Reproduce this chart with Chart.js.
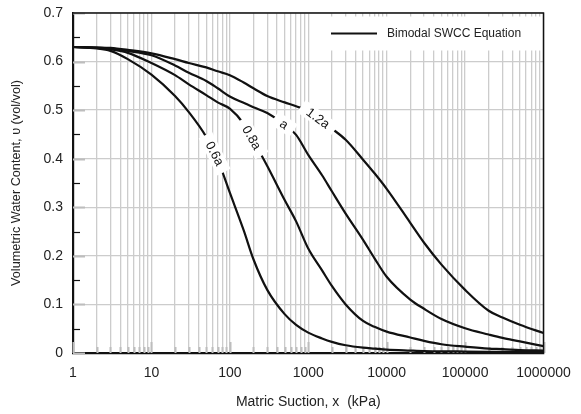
<!DOCTYPE html>
<html>
<head>
<meta charset="utf-8">
<script src="https://cdn.jsdelivr.net/npm/chart.js@4/dist/chart.umd.min.js"></script>
<style>
html,body{margin:0;padding:0;background:#ffffff;}
#wrap{width:581px;height:414px;}
</style>
</head>
<body>
<div id="wrap"><canvas id="c" width="581" height="414"></canvas></div>
<script>
// ---- data ----
const suction = [1,2,3,5,10,20,30,50,70,100,150,200,300,500,700,1000,1500,2000,3000,5000,7000,10000,20000,30000,50000,100000,200000,300000,500000,1000000];
const theta06 = [0.630,0.627,0.622,0.605,0.573,0.529,0.496,0.445,0.398,0.330,0.253,0.193,0.130,0.080,0.058,0.042,0.030,0.023,0.016,0.011,0.009,0.007,0.005,0.004,0.0035,0.003,0.0025,0.0022,0.002,0.002];
const theta08 = [0.630,0.628,0.625,0.618,0.597,0.572,0.553,0.531,0.516,0.503,0.472,0.437,0.385,0.315,0.271,0.215,0.170,0.138,0.100,0.066,0.054,0.044,0.032,0.025,0.018,0.013,0.009,0.008,0.006,0.005];
const theta10 = [0.630,0.629,0.627,0.622,0.613,0.592,0.577,0.560,0.545,0.528,0.515,0.506,0.494,0.470,0.449,0.408,0.366,0.333,0.287,0.233,0.195,0.157,0.110,0.091,0.070,0.051,0.038,0.031,0.024,0.014];
const theta12 = [0.630,0.629,0.628,0.624,0.617,0.605,0.597,0.588,0.580,0.572,0.557,0.545,0.529,0.516,0.508,0.498,0.477,0.462,0.439,0.398,0.370,0.338,0.268,0.227,0.182,0.130,0.087,0.073,0.058,0.041];
const curveNames = ['0.6a','0.8a','a','1.2a'];
const labelSuction = [64, 190, 490, 1330];
const legendLabel = 'Bimodal SWCC Equation';
const decades = [1,10,100,1000,10000,100000,1000000];
const multipliers = [1,2,3,4,5,6,7,8,9];
const yTickValues = [0,0.1,0.2,0.3,0.4,0.5,0.6,0.7];
const yMinorValues = [0.05,0.15,0.25,0.35,0.45,0.55,0.65];
const xTitle = 'Matric Suction, x  (kPa)';
const yTitle = 'Volumetric Water Content, \u03c5 (vol/vol)';

const xTickValues = [];
decades.forEach(d => multipliers.forEach(m => { const v = d*m; if (v <= decades[decades.length-1]) xTickValues.push(v); }));
const isDecade = v => decades.indexOf(v) >= 0;

const series = [theta06, theta08, theta10, theta12];
const FONT = '"Liberation Sans", Arial, Helvetica, sans-serif';

const axisDecor = {
  id: 'axisDecor',
  beforeDatasetsDraw(chart) {
    const ctx = chart.ctx, a = chart.chartArea, xs = chart.scales.x, ys = chart.scales.y;
    ctx.save();
    ctx.strokeStyle = '#bdbdbd'; ctx.lineWidth = 2;
    xTickValues.forEach(v => {
      const px = Math.round(xs.getPixelForValue(v)) + 0.5;
      const len = isDecade(v) ? 11 : 6;
      ctx.beginPath(); ctx.moveTo(px, a.bottom); ctx.lineTo(px, a.bottom - len); ctx.stroke();
    });
    yTickValues.forEach(v => {
      const py = Math.round(ys.getPixelForValue(v)) + 0.5;
      ctx.beginPath(); ctx.moveTo(a.left, py); ctx.lineTo(a.left + 12, py); ctx.stroke();
    });
    ctx.strokeStyle = '#111'; ctx.lineWidth = 1.2;
    yMinorValues.forEach(v => {
      const py = Math.round(ys.getPixelForValue(v)) + 0.5;
      ctx.beginPath(); ctx.moveTo(a.left, py); ctx.lineTo(a.left + 7, py); ctx.stroke();
    });
    // legend box
    const bx = a.left + 242, by = a.top + 3.5, bw = a.right - 2 - bx, bh = 34;
    ctx.fillStyle = '#ffffff';
    ctx.fillRect(bx, by, bw, bh);
    const ly = by + 17;
    ctx.strokeStyle = '#111'; ctx.lineWidth = 2;
    ctx.beginPath(); ctx.moveTo(a.left + 258, ly); ctx.lineTo(a.left + 304, ly); ctx.stroke();
    ctx.fillStyle = '#222'; ctx.font = '12px ' + FONT; ctx.textBaseline = 'middle'; ctx.textAlign = 'left';
    ctx.fillText(chart.data.datasets[0].label, a.left + 314, ly + 0.5);
    ctx.restore();
  },
  afterDatasetsDraw(chart) {
    const ctx = chart.ctx, a = chart.chartArea;
    ctx.save();
    ctx.strokeStyle = '#111'; ctx.lineWidth = 1.5;
    ctx.beginPath();
    ctx.moveTo(a.left, a.top); ctx.lineTo(a.right, a.top); ctx.lineTo(a.right, a.bottom);
    ctx.stroke();
    const xs = chart.scales.x;
    ctx.font = '13px ' + FONT;
    ctx.textAlign = 'center'; ctx.textBaseline = 'middle';
    chart.data.datasets.forEach((ds, i) => {
      const pts = chart.getDatasetMeta(i).data;
      const px = xs.getPixelForValue(labelSuction[i]);
      let k = 0;
      while (k < pts.length - 2 && pts[k+1].x < px) k++;
      const p0 = pts[k], p1 = pts[k+1];
      const t = (px - p0.x) / (p1.x - p0.x);
      const py = p0.y + t * (p1.y - p0.y);
      const ang = Math.atan2(p1.y - p0.y, p1.x - p0.x);
      const w = ctx.measureText(curveNames[i]).width + 16;
      ctx.save();
      ctx.translate(px, py); ctx.rotate(ang);
      ctx.fillStyle = '#ffffff';
      ctx.fillRect(-w/2, -7.5, w, 15);
      ctx.fillStyle = '#111';
      ctx.fillText(curveNames[i], 0, 0.5);
      ctx.restore();
    });
    ctx.restore();
  }
};

const datasets = series.map((vals, i) => ({
  label: legendLabel,
  data: suction.map((s, j) => ({x: s, y: vals[j]})),
  borderColor: '#111111',
  borderWidth: 2.2,
  pointRadius: 0,
  fill: false,
  cubicInterpolationMode: 'monotone'
}));

new Chart(document.getElementById('c'), {
  type: 'line',
  data: { datasets },
  options: {
    responsive: false,
    animation: false,
    devicePixelRatio: 1,
    layout: { padding: { top: 13, right: 37.5, left: 0, bottom: 0 } },
    plugins: { legend: { display: false }, tooltip: { enabled: false } },
    scales: {
      x: {
        type: 'logarithmic',
        min: 1, max: 1000000,
        afterBuildTicks: s => { s.ticks = xTickValues.map(v => ({ value: v, major: isDecade(v) })); },
        afterFit: s => { s.height = 61; s.paddingLeft = 0; s.paddingRight = 0; },
        ticks: {
          autoSkip: false, maxRotation: 0, padding: 12,
          color: '#222', font: { family: FONT, size: 14 },
          callback: v => isDecade(v) ? String(v) : ''
        },
        grid: { color: '#cccccc', lineWidth: 1.3, drawTicks: false },
        border: { display: true, color: '#111', width: 2.2 },
        title: { display: true, text: xTitle, color: '#222', font: { family: FONT, size: 14 }, padding: { top: 0, bottom: 3.6 } }
      },
      y: {
        min: 0, max: 0.7,
        afterBuildTicks: s => { s.ticks = yTickValues.map(v => ({ value: v })); },
        afterFit: s => { s.width = 73; s.paddingTop = 0; s.paddingBottom = 0; },
        ticks: {
          padding: 10, color: '#222', font: { family: FONT, size: 14 },
          callback: v => String(Number(v.toFixed(1)))
        },
        grid: { color: '#cccccc', lineWidth: 1.3, drawTicks: false },
        border: { display: true, color: '#111', width: 2.2 },
        title: { display: true, text: yTitle, color: '#222', font: { family: FONT, size: 12.7 }, padding: { top: 8.4, bottom: 0 } }
      }
    }
  },
  plugins: [axisDecor]
});
</script>
</body>
</html>
